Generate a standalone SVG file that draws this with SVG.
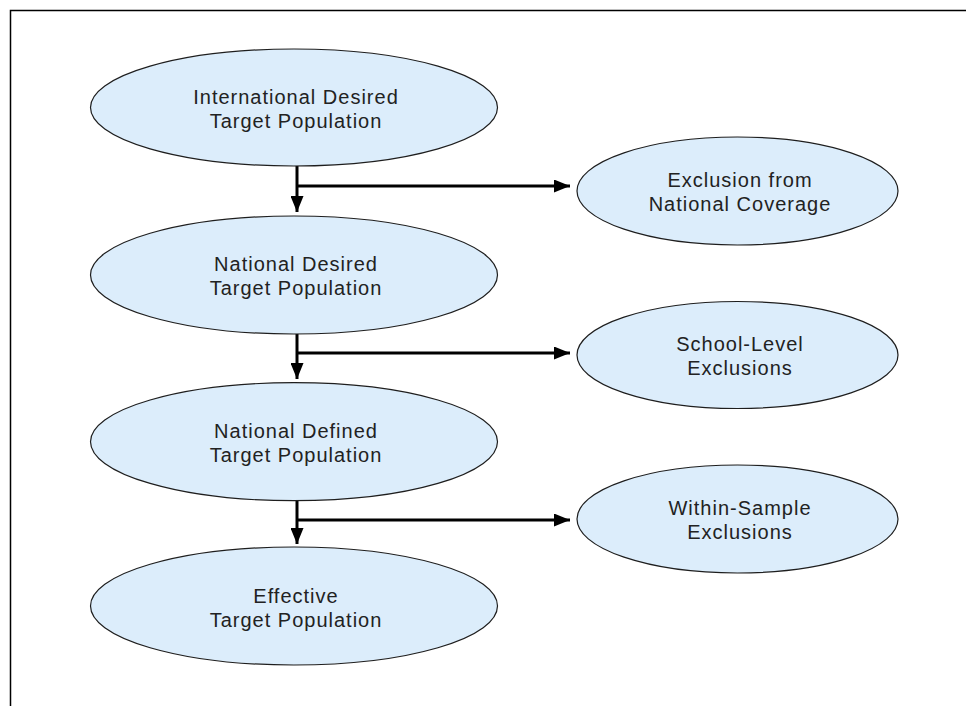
<svg xmlns="http://www.w3.org/2000/svg" width="966" height="706" viewBox="0 0 966 706">
<style>
.node ellipse{fill:#dcedfb;stroke:#1e1e1e;stroke-width:1.2}
.node text{font-family:"Liberation Sans",Arial,sans-serif;font-size:20px;letter-spacing:1px;fill:#222;text-anchor:middle}
.conn path{fill:none;stroke:#000;stroke-width:3}
.frame{fill:none;stroke:#000;stroke-width:1.5}
</style>
<defs>
<marker id="arr" markerUnits="userSpaceOnUse" markerWidth="17" markerHeight="13" refX="16" refY="6.5" orient="auto">
<path d="M0,0 L16,6.5 L0,13 z" fill="#000"/>
</marker>
</defs>
<rect width="966" height="706" fill="#fff"/>
<path class="frame" d="M10.5,706 V10.5 H966"/>
<g class="conn">
<path d="M297,166 V212" marker-end="url(#arr)"/>
<path d="M297,186 H570" marker-end="url(#arr)"/>
<path d="M297,334 V379" marker-end="url(#arr)"/>
<path d="M297,353 H570" marker-end="url(#arr)"/>
<path d="M297,501 V544" marker-end="url(#arr)"/>
<path d="M297,520 H570" marker-end="url(#arr)"/>
</g>
<g id="n1" class="node">
<ellipse cx="294" cy="107.5" rx="203.5" ry="58.5"/>
<text x="296" y="104">International Desired</text>
<text x="296" y="128">Target Population</text>
</g>
<g id="n2" class="node">
<ellipse cx="294" cy="275" rx="203.5" ry="59"/>
<text x="296" y="271">National Desired</text>
<text x="296" y="295">Target Population</text>
</g>
<g id="n3" class="node">
<ellipse cx="294" cy="441.7" rx="203.5" ry="59"/>
<text x="296" y="438">National Defined</text>
<text x="296" y="462">Target Population</text>
</g>
<g id="n4" class="node">
<ellipse cx="294" cy="606" rx="203.5" ry="59"/>
<text x="296" y="603">Effective</text>
<text x="296" y="627">Target Population</text>
</g>
<g id="e1" class="node">
<ellipse cx="737.5" cy="191" rx="160.5" ry="54"/>
<text x="740" y="187">Exclusion from</text>
<text x="740" y="211">National Coverage</text>
</g>
<g id="e2" class="node">
<ellipse cx="737.5" cy="355" rx="160.5" ry="53.5"/>
<text x="740" y="351">School-Level</text>
<text x="740" y="375">Exclusions</text>
</g>
<g id="e3" class="node">
<ellipse cx="737.5" cy="519" rx="160.5" ry="54"/>
<text x="740" y="514.5">Within-Sample</text>
<text x="740" y="538.5">Exclusions</text>
</g>
</svg>
